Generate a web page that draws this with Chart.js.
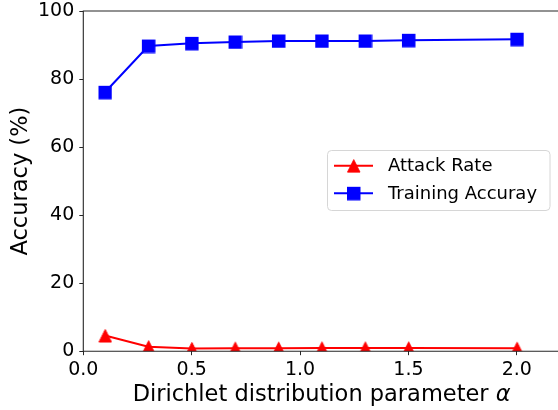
<!DOCTYPE html>
<html>
<head>
<meta charset="utf-8">
<script src="https://cdn.jsdelivr.net/npm/chart.js@4.4.1/dist/chart.umd.min.js"></script>
<style>
  html, body { margin: 0; padding: 0; background: #fff; overflow: hidden; }
  #wrap { width: 558px; height: 410px; }
  #c { display: block; }
</style>
</head>
<body>
<div id="wrap"><canvas id="c" width="558" height="410" style="width:558px;height:410px"></canvas></div>
<script>
const alphas = [0.1, 0.3, 0.5, 0.7, 0.9, 1.1, 1.3, 1.5, 2.0];
const attackRate = [4.6, 1.3, 0.8, 0.9, 0.9, 0.95, 0.95, 0.95, 0.85];
const trainingAcc = [76.1, 89.7, 90.5, 90.9, 91.2, 91.2, 91.2, 91.4, 91.7];
const seriesLabels = ['Attack Rate', 'Training Accuray'];
const xTicks = [0.0, 0.5, 1.0, 1.5, 2.0];
const yTicks = [0, 20, 40, 60, 80, 100];
const xTitleMain = 'Dirichlet distribution parameter ';
const xTitleSym = 'α';
const yTitle = 'Accuracy (%)';

const FONT = '"DejaVu Sans", sans-serif';

function makeTriangle(color, size) {
  const c = document.createElement('canvas');
  const s = size + 3;
  c.width = s; c.height = s;
  const g = c.getContext('2d');
  const cx = s / 2, cy = s / 2, h = size / 2;
  g.beginPath();
  g.moveTo(cx, cy - h);
  g.lineTo(cx - h, cy + h);
  g.lineTo(cx + h, cy + h);
  g.closePath();
  g.fillStyle = color; g.strokeStyle = color; g.lineWidth = 1;
  g.fill(); g.stroke();
  return c;
}
function makeSquare(color, size) {
  const c = document.createElement('canvas');
  const s = size + 3;
  c.width = s; c.height = s;
  const g = c.getContext('2d');
  const o = (s - size) / 2;
  g.fillStyle = color; g.strokeStyle = color; g.lineWidth = 1;
  g.fillRect(o, o, size, size);
  g.strokeRect(o, o, size, size);
  return c;
}
const triImg = makeTriangle('#ff0000', 12.5);
const sqImg = makeSquare('#0000ff', 12.5);

// left, top and bottom spines; the right spine lies just beyond the picture edge
const framePlugin = {
  id: 'frame',
  afterDatasetsDraw(chart) {
    const { ctx, chartArea: a, width } = chart;
    ctx.save();
    ctx.strokeStyle = '#262626';
    ctx.lineWidth = 1.1;
    ctx.beginPath();
    ctx.moveTo(width + 2, a.top);
    ctx.lineTo(a.left, a.top);
    ctx.lineTo(a.left, a.bottom);
    ctx.lineTo(width + 2, a.bottom);
    ctx.stroke();
    ctx.restore();
  }
};

const titlesPlugin = {
  id: 'titles',
  afterDraw(chart) {
    const { ctx, chartArea: a } = chart;
    ctx.save();
    ctx.fillStyle = '#000';
    ctx.font = '22.5px ' + FONT;
    ctx.textAlign = 'center';
    ctx.textBaseline = 'middle';
    ctx.translate(21, (a.top + a.bottom) / 2);
    ctx.rotate(-Math.PI / 2);
    ctx.fillText(yTitle, 0, 0);
    ctx.restore();
    ctx.save();
    ctx.fillStyle = '#000';
    ctx.textBaseline = 'alphabetic';
    ctx.textAlign = 'left';
    ctx.font = '22.5px ' + FONT;
    const w1 = ctx.measureText(xTitleMain).width;
    ctx.font = 'italic 22.5px ' + FONT;
    const w2 = ctx.measureText(xTitleSym).width;
    const cx = 321.6;
    const x0 = cx - (w1 + w2) / 2;
    ctx.font = '22.5px ' + FONT;
    ctx.fillText(xTitleMain, x0, 401);
    ctx.font = 'italic 22.5px ' + FONT;
    ctx.fillText(xTitleSym, x0 + w1, 401);
    ctx.restore();
  }
};

const legendPlugin = {
  id: 'customLegend',
  afterDraw(chart) {
    const { ctx } = chart;
    const bx = 327.5, by = 150.5, bw = 222.5, bh = 60, r = 4;
    ctx.save();
    ctx.beginPath();
    ctx.moveTo(bx + r, by);
    ctx.lineTo(bx + bw - r, by);
    ctx.quadraticCurveTo(bx + bw, by, bx + bw, by + r);
    ctx.lineTo(bx + bw, by + bh - r);
    ctx.quadraticCurveTo(bx + bw, by + bh, bx + bw - r, by + bh);
    ctx.lineTo(bx + r, by + bh);
    ctx.quadraticCurveTo(bx, by + bh, bx, by + bh - r);
    ctx.lineTo(bx, by + r);
    ctx.quadraticCurveTo(bx, by, bx + r, by);
    ctx.closePath();
    ctx.fillStyle = 'rgba(255,255,255,0.8)';
    ctx.fill();
    ctx.strokeStyle = '#d6d6d6';
    ctx.lineWidth = 1;
    ctx.stroke();
    const rows = [
      { y: 165.7, color: '#ff0000', img: triImg, label: chart.data.datasets[0].label },
      { y: 193.3, color: '#0000ff', img: sqImg, label: chart.data.datasets[1].label }
    ];
    rows.forEach(rw => {
      ctx.strokeStyle = rw.color;
      ctx.lineWidth = 2;
      ctx.beginPath();
      ctx.moveTo(334, rw.y);
      ctx.lineTo(373, rw.y);
      ctx.stroke();
      ctx.drawImage(rw.img, 353.5 - rw.img.width / 2, rw.y - rw.img.height / 2);
      ctx.fillStyle = '#000';
      ctx.font = '18px ' + FONT;
      ctx.textBaseline = 'middle';
      ctx.textAlign = 'left';
      ctx.fillText(rw.label, 388, rw.y + 1);
    });
    ctx.restore();
  }
};

new Chart(document.getElementById('c'), {
  type: 'line',
  data: {
    datasets: [
      {
        label: seriesLabels[0],
        data: alphas.map((x, i) => ({ x: x, y: attackRate[i] })),
        borderColor: '#ff0000',
        backgroundColor: '#ff0000',
        borderWidth: 2,
        pointStyle: triImg,
        pointRadius: 7,
        tension: 0
      },
      {
        label: seriesLabels[1],
        data: alphas.map((x, i) => ({ x: x, y: trainingAcc[i] })),
        borderColor: '#0000ff',
        backgroundColor: '#0000ff',
        borderWidth: 2,
        pointStyle: sqImg,
        pointRadius: 7,
        tension: 0
      }
    ]
  },
  options: {
    responsive: false,
    animation: false,
    devicePixelRatio: 1,
    layout: { autoPadding: false, padding: { top: 11, right: 0, left: 0, bottom: 0 } },
    plugins: { legend: { display: false }, tooltip: { enabled: false } },
    scales: {
      x: {
        type: 'linear',
        min: 0,
        max: 2.19,
        afterBuildTicks(scale) { scale.ticks = xTicks.map(v => ({ value: v })); },
        afterFit(scale) { scale.height = 58.8; scale.paddingLeft = 0; scale.paddingRight = 0; },
        ticks: {
          callback: v => Number(v).toFixed(1),
          font: { family: 'DejaVu Sans', size: 19 },
          color: '#000',
          padding: 3,
          maxRotation: 0,
          autoSkip: false
        },
        grid: { drawOnChartArea: false, drawTicks: true, tickLength: 4, tickColor: '#262626', tickWidth: 1 },
        border: { display: false }
      },
      y: {
        type: 'linear',
        min: 0,
        max: 100,
        afterBuildTicks(scale) { scale.ticks = yTicks.map(v => ({ value: v })); },
        afterFit(scale) { scale.width = 83.3; scale.paddingTop = 0; scale.paddingBottom = 0; },
        ticks: {
          font: { family: 'DejaVu Sans', size: 19 },
          color: '#000',
          padding: 5
        },
        grid: { drawOnChartArea: false, drawTicks: true, tickLength: 4, tickColor: '#262626', tickWidth: 1 },
        border: { display: false }
      }
    }
  },
  plugins: [framePlugin, titlesPlugin, legendPlugin]
});
</script>
</body>
</html>
